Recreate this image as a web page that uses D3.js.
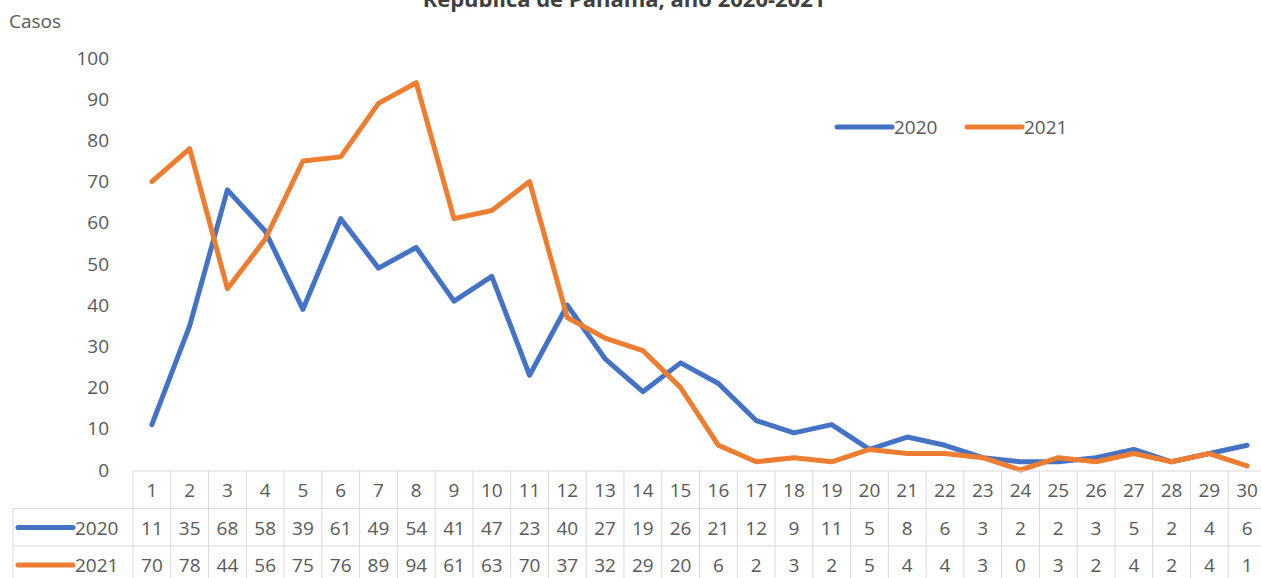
<!DOCTYPE html>
<html>
<head>
<meta charset="utf-8">
<script src="https://cdn.jsdelivr.net/npm/d3@7"></script>
<style>
  body { margin: 0; background: #fff; }
  text { font-family: "Open Sans", sans-serif; fill: #595959; }
</style>
</head>
<body>
<div id="chart"></div>
<script>
var w = 1261;
var h = 578;

// data
var days = d3.range(1, 31);
var cases2020 = [11,35,68,58,39,61,49,54,41,47,23,40,27,19,26,21,12,9,11,5,8,6,3,2,2,3,5,2,4,6];
var cases2021 = [70,78,44,56,75,76,89,94,61,63,70,37,32,29,20,6,2,3,2,5,4,4,3,0,3,2,4,2,4,1];
var seriesNames = ["2020", "2021"];
var colors = ["#4472C4", "#ED7D31"];
var yTicks = [0,10,20,30,40,50,60,70,80,90,100];

var series = [cases2020, cases2021];

var plotLeft = 133, plotRight = 1266, plotTop = 58, plotBottom = 471;
var rowH = 37.5;
var fs = "19px";

var svg = d3.select("#chart")
  .append("svg")
  .attr("width", w)
  .attr("height", h);

var x = d3.scaleBand()
  .domain(days)
  .range([plotLeft, plotRight]);

var y = d3.scaleLinear()
  .domain([0, 100])
  .range([plotBottom - 1, plotTop]);

// title (cut at the top like the original)
svg.append("text")
  .attr("x", 624)
  .attr("y", 7)
  .attr("text-anchor", "middle")
  .style("font-weight", "bold")
  .style("font-size", "22px")
  .style("fill", "#404040")
  .text("República de Panamá, año 2020-2021");

svg.append("text")
  .attr("x", 9)
  .attr("y", 28)
  .style("font-size", fs)
  .text("Casos");

// y axis
var yAxis = d3.axisLeft(y).tickValues(yTicks).tickSize(0).tickPadding(0);
var gy = svg.append("g")
  .attr("transform", "translate(109,0)")
  .call(yAxis);
gy.select(".domain").remove();
gy.selectAll("text")
  .style("font-size", fs)
  .style("fill", "#595959")
  .style("font-family", "'Open Sans', sans-serif");

// lines
var line = d3.line()
  .x(function(d, i) { return x(days[i]) + x.bandwidth() / 2; })
  .y(function(d) { return y(d); });

svg.selectAll("path.series")
  .data(series)
  .enter()
  .append("path")
  .attr("class", "series")
  .attr("fill", "none")
  .attr("stroke", function(d, i) { return colors[i]; })
  .attr("stroke-width", 5)
  .attr("stroke-linejoin", "round")
  .attr("stroke-linecap", "round")
  .attr("d", line);

// legend
var legend = svg.append("g");
var legX = [837, 967];
seriesNames.forEach(function(name, i) {
  legend.append("line")
    .attr("x1", legX[i]).attr("x2", legX[i] + 55)
    .attr("y1", 127).attr("y2", 127)
    .attr("stroke", colors[i])
    .attr("stroke-width", 5)
    .attr("stroke-linecap", "round");
  legend.append("text")
    .attr("x", legX[i] + 57)
    .attr("y", 134)
    .style("font-size", fs)
    .text(name);
});

// data table
var grid = "#d9d9d9";
var table = svg.append("g");
var tableBottom = plotBottom + rowH * 3;

table.append("line")
  .attr("x1", plotLeft).attr("x2", plotRight)
  .attr("y1", plotBottom).attr("y2", plotBottom)
  .attr("stroke", grid);
[1, 2].forEach(function(r) {
  table.append("line")
    .attr("x1", 13).attr("x2", plotRight)
    .attr("y1", plotBottom + rowH * r).attr("y2", plotBottom + rowH * r)
    .attr("stroke", grid);
});
table.append("line")
  .attr("x1", 13).attr("x2", 13)
  .attr("y1", plotBottom + rowH).attr("y2", tableBottom)
  .attr("stroke", grid);
table.selectAll("line.col")
  .data(days)
  .enter()
  .append("line")
  .attr("class", "col")
  .attr("x1", function(d) { return x(d); })
  .attr("x2", function(d) { return x(d); })
  .attr("y1", plotBottom)
  .attr("y2", tableBottom)
  .attr("stroke", grid);

table.selectAll("text.day")
  .data(days)
  .enter()
  .append("text")
  .attr("class", "day")
  .attr("x", function(d) { return x(d) + x.bandwidth() / 2; })
  .attr("y", plotBottom + 26)
  .attr("text-anchor", "middle")
  .style("font-size", fs)
  .text(function(d) { return d; });

series.forEach(function(vals, i) {
  var ry = plotBottom + rowH * (i + 1);
  table.append("line")
    .attr("x1", 18).attr("x2", 73)
    .attr("y1", ry + 19).attr("y2", ry + 19)
    .attr("stroke", colors[i])
    .attr("stroke-width", 5)
    .attr("stroke-linecap", "round");
  table.append("text")
    .attr("x", 75)
    .attr("y", ry + 26)
    .style("font-size", fs)
    .text(seriesNames[i]);
  table.selectAll("text.v" + i)
    .data(vals)
    .enter()
    .append("text")
    .attr("class", "v" + i)
    .attr("x", function(d, j) { return x(days[j]) + x.bandwidth() / 2; })
    .attr("y", ry + 26)
    .attr("text-anchor", "middle")
    .style("font-size", fs)
    .text(function(d) { return d; });
});
</script>
</body>
</html>
